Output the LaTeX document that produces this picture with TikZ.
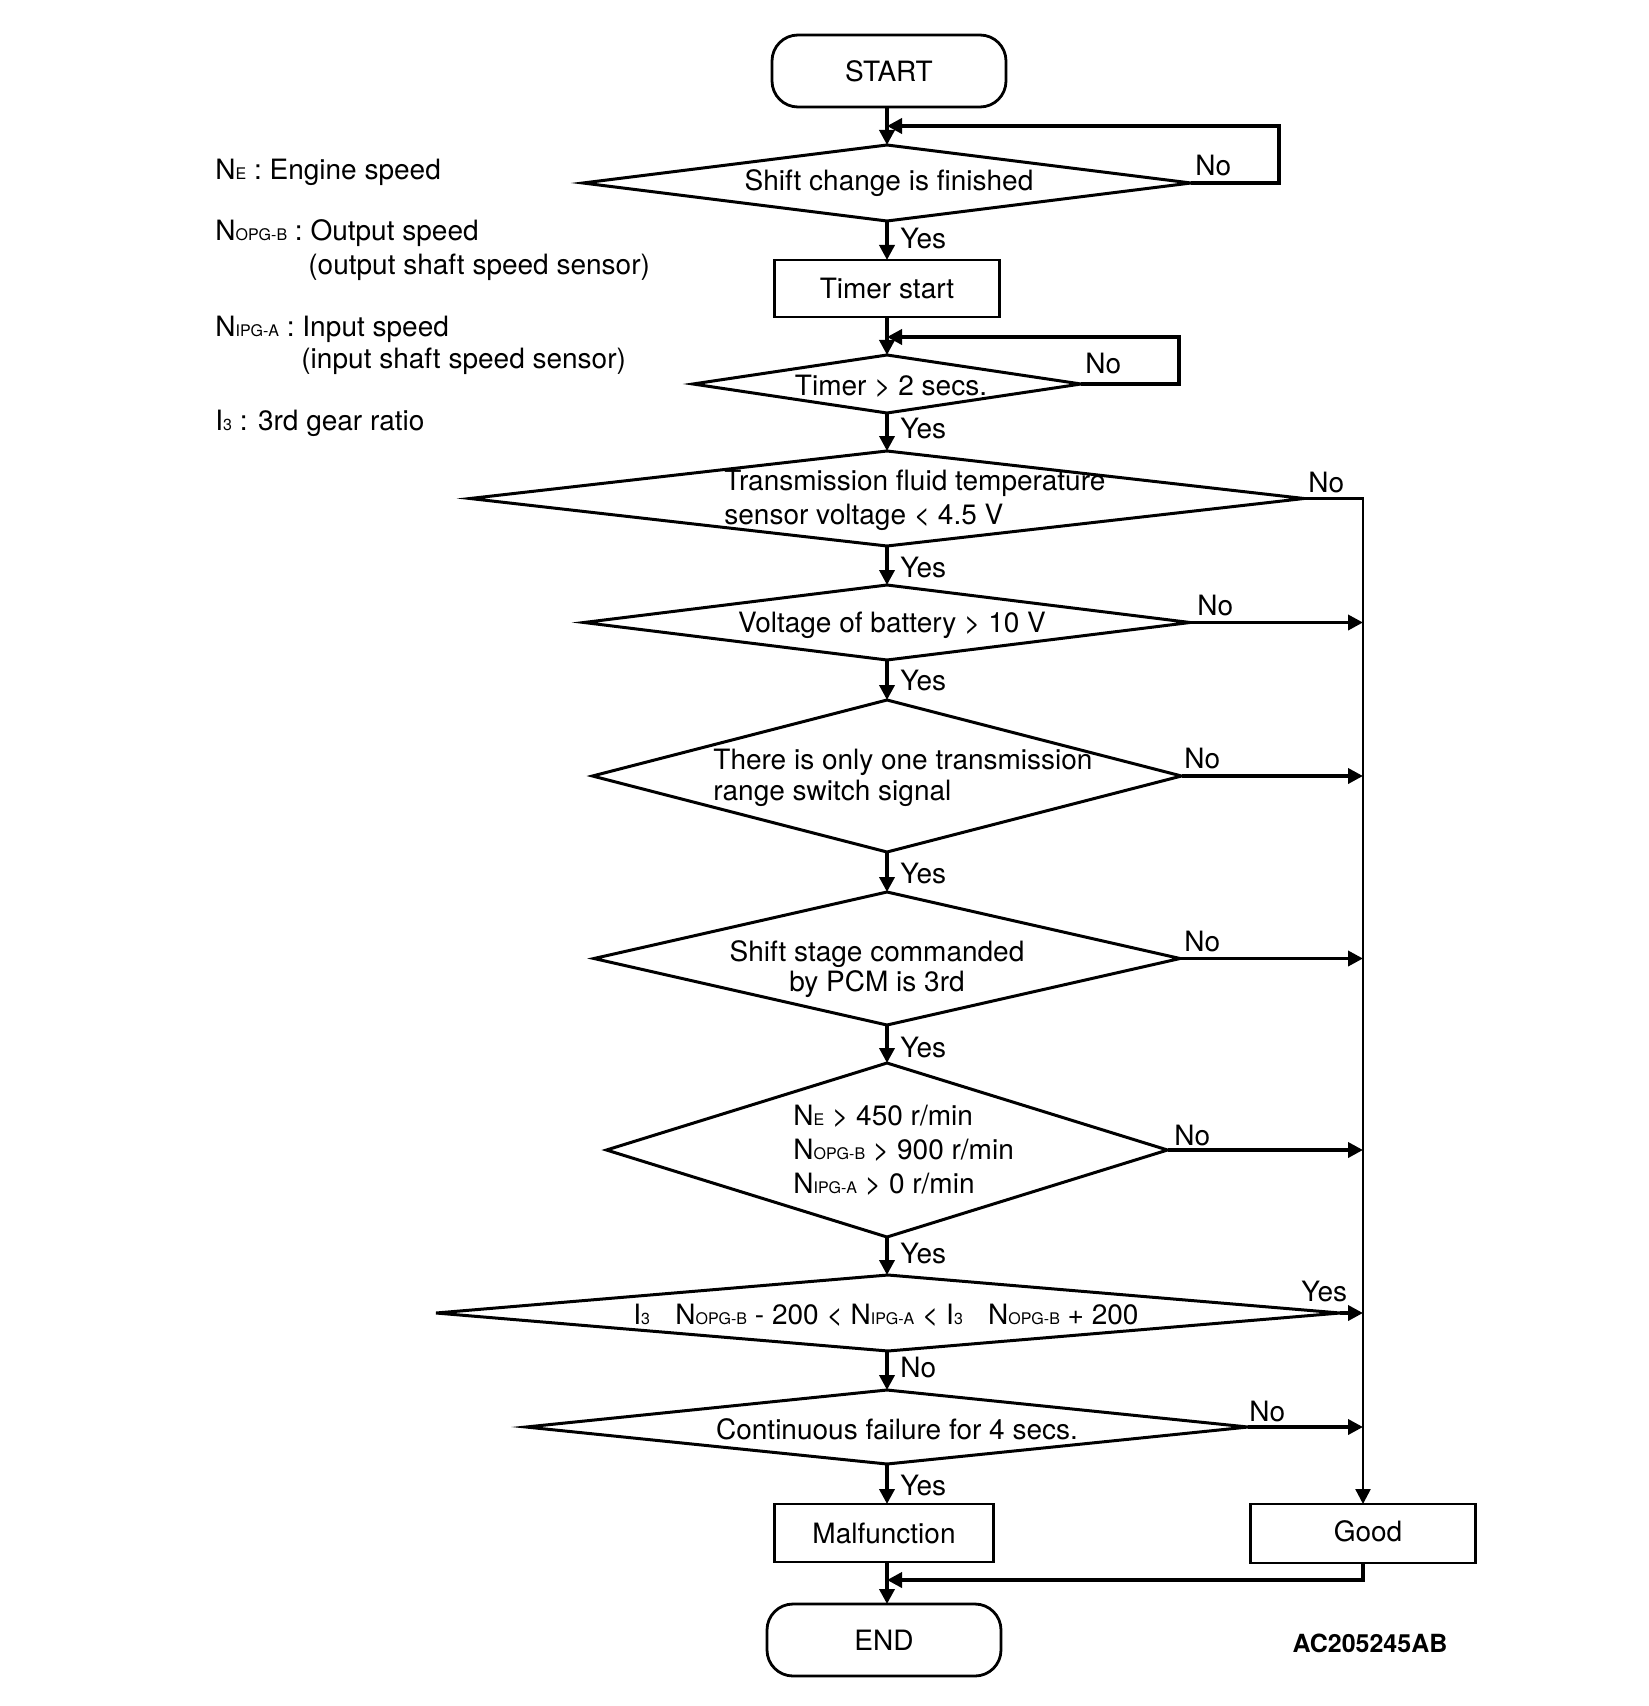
\documentclass[tikz,border=0pt]{standalone}
\usepackage{fontspec}
\setmainfont{TeX Gyre Heros}
\usetikzlibrary{shapes.geometric,arrows.meta}
\newcommand\ssb[1]{{\fontsize{8pt}{9pt}\selectfont #1}}
\begin{document}
\begin{tikzpicture}[x=0.5pt,y=-0.5pt,
  txt/.style={font=\fontsize{14pt}{17pt}\selectfont, inner sep=0pt},
  lbl/.style={txt, anchor=base west},
  dec/.style={draw, diamond, line width=1.5pt, inner sep=0pt, outer sep=0pt},
  procbox/.style={draw, rectangle, line width=1.2pt, inner sep=0pt, outer sep=0pt, font=\fontsize{14pt}{17pt}\selectfont},
  term/.style={draw, rectangle, rounded corners=13pt, line width=1.4pt, inner sep=0pt, outer sep=0pt, minimum width=117pt, minimum height=36pt, font=\fontsize{14pt}{17pt}\selectfont},
  flow/.style={line width=1.8pt, -{Triangle[length=7.5pt,width=7.5pt]}},
  bus/.style={line width=1.2pt, -{Triangle[length=7.5pt,width=7.5pt]}}]
\useasboundingbox (0,0) rectangle (1648,1706);

% legend
\node[lbl] (lg1) at (215,180) {N\ssb{E} : Engine speed};
\node[lbl] (lg2) at (215,241) {N\ssb{OPG-B} : Output speed};
\node[lbl] (lg3) at (308,275) {(output shaft speed sensor)};
\node[lbl] (lg4) at (215,336) {N\ssb{IPG-A} : Input speed};
\node[lbl] (lg5) at (301,369) {(input shaft speed sensor)};
\node[lbl] (lg6) at (215,430) {I\ssb{3} : 3rd gear ratio};

% shapes
\node[term] (start) at (889,71) {START};
\node[dec, minimum width=304pt, minimum height=38pt] (d1) at (887,183) {};
\node[procbox, minimum width=112.5pt, minimum height=28.5pt] (timer) at (887,288.5) {Timer start};
\node[dec, minimum width=194pt, minimum height=29pt] (d2) at (887,384) {};
\node[dec, minimum width=417pt, minimum height=47.5pt] (d3) at (887,498.5) {};
\node[dec, minimum width=303pt, minimum height=37.5pt] (d4) at (887,622.5) {};
\node[dec, minimum width=294.5pt, minimum height=76pt] (d5) at (887,776) {};
\node[dec, minimum width=293pt, minimum height=66.5pt] (d6) at (887,958.5) {};
\node[dec, minimum width=280.5pt, minimum height=87pt] (d7) at (887,1150) {};
\node[dec, minimum width=452pt, minimum height=38pt] (d8) at (888,1313) {};
\node[dec, minimum width=361pt, minimum height=37pt] (d9) at (887,1427) {};
\node[procbox, minimum width=109.5pt, minimum height=29pt] (malf) at (884,1533) {Malfunction};
\node[procbox, minimum width=112.5pt, minimum height=29.5pt] (good) at (1363,1533.5) {};
\node[term] (end) at (884,1640) {END};

% box texts
\node[txt] (tg) at (1368,1531) {Good};

% diamond texts
\node[txt] (t1) at (889,183) {Shift change is finished};
\node[txt] (t2) at (891,386) {Timer > 2 secs.};
\node[txt, align=left, anchor=west, font=\fontsize{14pt}{17pt}\selectfont] (t3) at (724,500) {Transmission fluid temperature\\sensor voltage < 4.5 V};
\node[txt] (t4) at (892,625) {Voltage of battery > 10 V};
\node[txt, align=left, anchor=west, font=\fontsize{14pt}{15.5pt}\selectfont] (t5) at (713,778) {There is only one transmission\\range switch signal};
\node[txt, align=center, font=\fontsize{14pt}{15pt}\selectfont] (t6) at (877,969) {Shift stage commanded\\by PCM is 3rd};
\node[txt, align=left, anchor=west, font=\fontsize{14pt}{17pt}\selectfont] (t7) at (793,1150) {N\ssb{E} > 450 r/min\\N\ssb{OPG-B} > 900 r/min\\N\ssb{IPG-A} > 0 r/min};
\node[txt] (t8) at (886,1315) {I\ssb{3}\hspace{0.9em}N\ssb{OPG-B} - 200 < N\ssb{IPG-A} < I\ssb{3}\hspace{0.9em}N\ssb{OPG-B} + 200};
\node[txt] (t9) at (897,1429) {Continuous failure for 4 secs.};

% junction coordinates
\coordinate (l1) at (1279,126);
\coordinate (j1) at (887,126);
\coordinate (l2) at (1179,337);
\coordinate (j2) at (887,337);
\coordinate (j3) at (887,1580);

% main flow
\draw[flow] (start.south -| d1.north) -- (d1.north);
\draw[flow] (d1.south) -- (timer.north);
\draw[flow] (timer.south) -- (d2.north);
\draw[flow] (d2.south) -- (d3.north);
\draw[flow] (d3.south) -- (d4.north);
\draw[flow] (d4.south) -- (d5.north);
\draw[flow] (d5.south) -- (d6.north);
\draw[flow] (d6.south) -- (d7.north);
\draw[flow] (d7.south) -- (d8.north -| d7.south);
\draw[flow] (d8.south -| d9.north) -- (d9.north);
\draw[flow] (d9.south) -- (malf.north -| d9.south);
\draw[flow] (malf.south -| d9.south) -- (end.north -| d9.south);

% loops
\draw[flow] (d1.east) -| (l1) -- (j1);
\draw[flow] (d2.east) -| (l2) -- (j2);

% right bus
\draw[bus] (d3.east) -| (good.north);
\draw[flow] (d4.east) -- (d4.east -| good.north);
\draw[flow] (d5.east) -- (d5.east -| good.north);
\draw[flow] (d6.east) -- (d6.east -| good.north);
\draw[flow] (d7.east) -- (d7.east -| good.north);
\draw[flow] (d8.east) -- (d8.east -| good.north);
\draw[flow] (d9.east) -- (d9.east -| good.north);
\draw[flow] (good.south) |- (j3);

% branch labels
\node[lbl] (n1) at (1195,176) {No};
\node[lbl] (y1) at (900,249) {Yes};
\node[lbl] (n2) at (1085,373) {No};
\node[lbl] (y2) at (900,438) {Yes};
\node[lbl] (n3) at (1308,492) {No};
\node[lbl] (y3) at (900,577) {Yes};
\node[lbl] (n4) at (1197,615) {No};
\node[lbl] (y4) at (900,690) {Yes};
\node[lbl] (n5) at (1184,768) {No};
\node[lbl] (y5) at (900,883) {Yes};
\node[lbl] (n6) at (1184,951) {No};
\node[lbl] (y6) at (900,1057) {Yes};
\node[lbl] (n7) at (1174,1145) {No};
\node[lbl] (y7) at (900,1263) {Yes};
\node[lbl] (y8) at (1301,1301) {Yes};
\node[lbl] (n8) at (900,1377) {No};
\node[lbl] (n9) at (1249,1421) {No};
\node[lbl] (y9) at (900,1495) {Yes};

% figure code
\node[font=\fontsize{12.5pt}{15pt}\selectfont\bfseries, inner sep=0pt] (code) at (1370,1643) {AC205245AB};
\end{tikzpicture}
\end{document}
